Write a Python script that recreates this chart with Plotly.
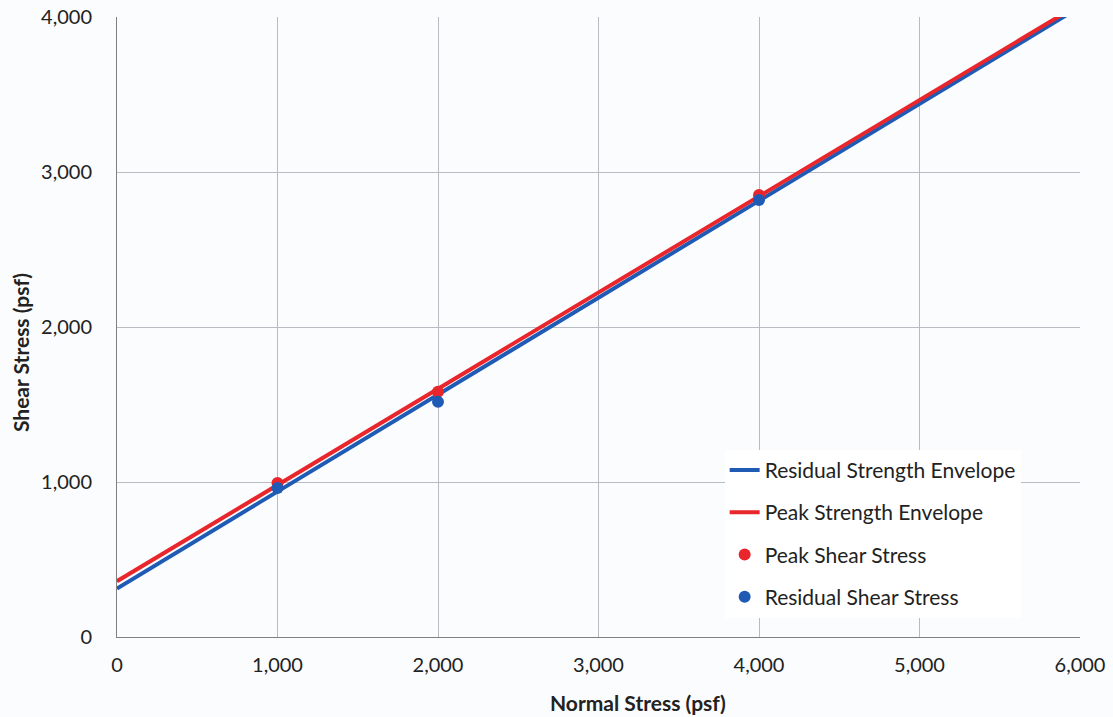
import plotly.graph_objects as go

# Data
normal_stress = [1000, 2000, 4000]
peak_shear = [994, 1582, 2851]
residual_shear = [961, 1517, 2820]

env_x = [0, 6000]
peak_env = [360, 4085]
residual_env = [313, 4065]

x_title = "Normal Stress (psf)"
y_title = "Shear Stress (psf)"

RED = "#e8262b"
BLUE = "#1f5bb5"
FONT = "Lato, 'Open Sans', sans-serif"

fig = go.Figure()
fig.add_trace(go.Scatter(x=env_x, y=residual_env, mode="lines", name="Residual Strength Envelope",
                         line=dict(color=BLUE, width=4), legendgroup="a"))
fig.add_trace(go.Scatter(x=env_x, y=peak_env, mode="lines", name="Peak Strength Envelope",
                         line=dict(color=RED, width=4), legendgroup="b"))
fig.add_trace(go.Scatter(x=normal_stress, y=peak_shear, mode="markers", name="Peak Shear Stress",
                         marker=dict(color=RED, size=12), legendgroup="c"))
fig.add_trace(go.Scatter(x=normal_stress, y=residual_shear, mode="markers", name="Residual Shear Stress",
                         marker=dict(color=BLUE, size=12), legendgroup="d"))

fig.update_layout(
    width=1113, height=717,
    margin=dict(l=117, r=33, t=17, b=80, autoexpand=False),
    paper_bgcolor="#fbfcfd",
    plot_bgcolor="#fbfcfd",
    font=dict(family=FONT, size=20, color="#222222"),
    showlegend=True,
    legend=dict(x=0.631, y=0.302, xanchor="left", yanchor="top",
                bgcolor="#ffffff", borderwidth=0, tracegroupgap=12,
                font=dict(family=FONT, size=21, color="#222222")),
    xaxis=dict(range=[0, 6000], dtick=1000, tickformat=",", showgrid=True,
               gridcolor="#b8bcc2", gridwidth=1, showline=True, linecolor="#808080",
               linewidth=1, zeroline=False, ticks="", ticklabelstandoff=10, automargin=False,
               tickfont=dict(size=20)),
    yaxis=dict(range=[0, 4000], dtick=1000, tickformat=",", showgrid=True,
               gridcolor="#b8bcc2", gridwidth=1, showline=True, linecolor="#808080",
               linewidth=1, zeroline=False, ticks="", ticklabelstandoff=20, automargin=False,
               tickfont=dict(size=20)),
    annotations=[
        dict(text=f"<b>{x_title}</b>", xref="paper", yref="paper", x=0.541, y=-0.105,
             xanchor="center", yanchor="middle", showarrow=False,
             font=dict(family=FONT, size=21, color="#222222")),
        dict(text=f"<b>{y_title}</b>", xref="paper", yref="paper", x=-0.1007, y=0.458,
             xanchor="center", yanchor="middle", showarrow=False, textangle=-90,
             font=dict(family=FONT, size=21, color="#222222")),
    ],
)

fig.write_html("out.html")
